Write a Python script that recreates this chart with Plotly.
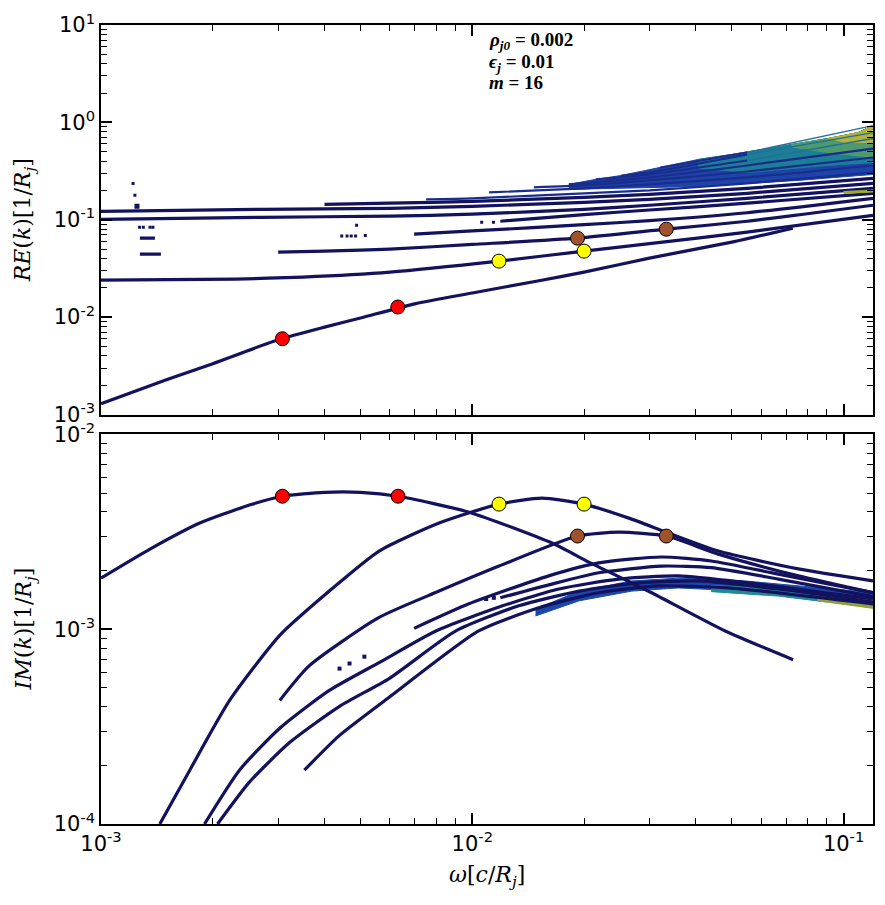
import plotly.graph_objects as go
from plotly.subplots import make_subplots

NAVY = "#12125e"
BANDLINE = "#1a2c8c"

# ---------------- top panel : RE(k) branches ----------------
re_fund_x = [1e-3, 1.5e-3, 2e-3, 3e-3, 4e-3, 5e-3, 7e-3, 1e-2, 1.5e-2, 2e-2, 3e-2, 5e-2, 7.3e-2]
re_fund_y = [1.29e-3, 2.28e-3, 3.33e-3, 5.85e-3, 7.9e-3, 9.8e-3, 1.37e-2, 1.77e-2, 2.35e-2, 2.90e-2, 4.04e-2, 5.89e-2, 8.18e-2]

re_b_x = [1e-3, 2.3e-3, 3.5e-3, 6e-3, 1.18e-2, 2e-2, 3e-2, 5.5e-2, 0.12]
re_b_y = [0.0240, 0.0246, 0.0258, 0.0290, 0.0376, 0.0476, 0.0569, 0.0745, 0.111]

re_c_x = [3e-3, 4e-3, 5e-3, 6e-3, 1e-2, 1.92e-2, 3.33e-2, 5.5e-2, 0.12]
re_c_y = [0.0466, 0.0476, 0.0488, 0.0499, 0.0558, 0.0647, 0.0800, 0.0966, 0.141]

re_d_x = [6.97e-3, 1e-2, 2e-2, 3e-2, 5.5e-2, 0.12]
re_d_y = [0.0711, 0.0767, 0.089, 0.098, 0.118, 0.166]

re_e_x = [1.19e-2, 2e-2, 3e-2, 5.5e-2, 0.12]
re_e_y = [0.0966, 0.113, 0.126, 0.148, 0.187]

re_h_x = [1e-3, 2.7e-3, 6e-3, 1e-2, 2e-2, 3e-2, 5.5e-2, 0.12]
re_h_y = [0.101, 0.106, 0.109, 0.114, 0.128, 0.141, 0.166, 0.210]

re_g_x = [1e-3, 2.7e-3, 6e-3, 1e-2, 2e-2, 3e-2, 5.5e-2, 0.12]
re_g_y = [0.122, 0.128, 0.131, 0.1375, 0.151, 0.162, 0.187, 0.236]

re_f_x = [4e-3, 6e-3, 1e-2, 2e-2, 3e-2, 5.5e-2, 0.12]
re_f_y = [0.144, 0.148, 0.1545, 0.170, 0.182, 0.210, 0.266]

re_m1_x = [7.51e-3, 1e-2, 2e-2, 3e-2, 5.5e-2, 0.12]
re_m1_y = [0.162, 0.166, 0.187, 0.200, 0.236, 0.306]
re_m2_x = [1.11e-2, 2e-2, 3e-2, 5.5e-2, 0.12]
re_m2_y = [0.191, 0.210, 0.231, 0.272, 0.361]
re_m3_x = [1.465e-2, 2e-2, 3e-2, 5.5e-2, 0.12]
re_m3_y = [0.215, 0.225, 0.2535, 0.313, 0.436]
re_m4_x = [1.82e-2, 3e-2, 5.5e-2, 0.12]
re_m4_y = [0.231, 0.272, 0.361, 0.539]
re_m5_x = [2.15e-2, 3e-2, 5.5e-2, 0.12]
re_m5_y = [0.260, 0.292, 0.406, 0.682]
re_m6_x = [2.52e-2, 3e-2, 5.5e-2, 0.12]
re_m6_y = [0.285, 0.306, 0.468, 0.785]
re_m7_x = [3.21e-2, 5.5e-2, 0.12]
re_m7_y = [0.344, 0.491, 0.927]

# isolated root-finder points
re_dots_x = [1.22e-3, 1.234e-3, 4.45e-3, 4.6e-3, 4.72e-3, 4.85e-3, 4.88e-3, 5.15e-3, 1.06e-2, 1.14e-2,
             1.27e-3, 1.30e-3, 1.355e-3, 1.38e-3]
re_dots_y = [0.236, 0.178, 0.068, 0.068, 0.068, 0.068, 0.0879, 0.069, 0.0943, 0.0943,
             0.0838, 0.0838, 0.0838, 0.0838]
re_big_dot_x = [1.25e-3]
re_big_dot_y = [0.138]
re_seg1_x = [1.273e-3, 1.397e-3]
re_seg1_y = [0.0647, 0.0647]
re_seg2_x = [1.273e-3, 1.45e-3]
re_seg2_y = [0.0444, 0.0444]
re_streak_x = [0.1, 0.12]
re_streak_y = [0.191, 0.197]

# dense band (colour-coded) outlines
band_top_x = [1.82e-2, 2.15e-2, 2.52e-2, 3.21e-2, 4.06e-2, 4.99e-2, 7.23e-2, 9.08e-2, 0.1094, 0.12,
              0.12, 7.55e-2, 4.06e-2, 2.48e-2, 1.82e-2]
band_top_y = [0.231, 0.260, 0.285, 0.344, 0.416, 0.468, 0.591, 0.682, 0.785, 0.927,
              0.292, 0.2535, 0.220, 0.210, 0.205]
teal_top_x = [4.06e-2, 4.99e-2, 7.23e-2, 9.08e-2, 0.1094, 0.12, 0.12, 9.0e-2, 5.54e-2, 4.06e-2]
teal_top_y = [0.416, 0.468, 0.591, 0.682, 0.785, 0.927, 0.387, 0.361, 0.306, 0.34]
green_top_x = [7.23e-2, 9.08e-2, 0.1094, 0.12, 0.12, 9.08e-2, 7.23e-2]
green_top_y = [0.591, 0.682, 0.785, 0.927, 0.436, 0.49, 0.56]
yellow_top_x = [9.08e-2, 0.1094, 0.12, 0.12, 0.1]
yellow_top_y = [0.682, 0.785, 0.927, 0.62, 0.62]

# marked points
re_red_x = [3.08e-3, 6.3e-3]
re_red_y = [6.0e-3, 1.27e-2]
re_yellow_x = [1.18e-2, 2.0e-2]
re_yellow_y = [0.0376, 0.0476]
re_brown_x = [1.92e-2, 3.33e-2]
re_brown_y = [0.0647, 0.080]

# ---------------- bottom panel : IM(k) branches ----------------
im_fund_x = [1e-3, 1.355e-3, 1.845e-3, 2.51e-3, 3.08e-3, 4e-3, 5e-3, 6.31e-3, 9.8e-3, 1.64e-2, 2.06e-2,
             2.59e-2, 3.04e-2, 4.8e-2, 7.31e-2]
im_fund_y = [1.83e-3, 2.58e-3, 3.51e-3, 4.34e-3, 4.82e-3, 5.05e-3, 5.05e-3, 4.82e-3, 3.99e-3, 2.77e-3, 2.21e-3,
             1.79e-3, 1.54e-3, 9.8e-4, 6.98e-4]

im_b_x = [1.44e-3, 1.734e-3, 2.22e-3, 3.03e-3, 4.12e-3, 5.61e-3, 8.14e-3, 1.18e-2, 1.54e-2, 1.995e-2,
          2.64e-2, 3.33e-2, 4.6e-2, 7.55e-2, 0.12]
im_b_y = [1.0e-4, 1.89e-4, 4.31e-4, 9.3e-4, 1.57e-3, 2.52e-3, 3.51e-3, 4.39e-3, 4.71e-3, 4.39e-3,
          3.72e-3, 3.15e-3, 2.52e-3, 2.04e-3, 1.77e-3]

im_c_x = [3.03e-3, 3.64e-3, 5.61e-3, 8.14e-3, 1.18e-2, 1.92e-2, 2.48e-2, 3.33e-2, 4.6e-2, 7.55e-2, 0.12]
im_c_y = [4.31e-4, 6.5e-4, 1.15e-3, 1.57e-3, 2.11e-3, 3.01e-3, 3.15e-3, 3.01e-3, 2.43e-3, 1.88e-3, 1.54e-3]

im_g_x = [1.90e-3, 2.36e-3, 3.03e-3, 4.12e-3, 5.61e-3, 7.98e-3, 1.18e-2, 1.71e-2, 2.48e-2, 3.59e-2, 5.54e-2, 0.12]
im_g_y = [1.0e-4, 1.89e-4, 3.10e-4, 4.85e-4, 6.74e-4, 9.8e-4, 1.30e-3, 1.61e-3, 1.81e-3, 1.88e-3, 1.73e-3, 1.43e-3]

im_h_x = [2.06e-3, 2.51e-3, 3.22e-3, 4.39e-3, 5.97e-3, 9.03e-3, 1.334e-2, 1.94e-2, 2.81e-2, 4.06e-2, 6.67e-2, 0.12]
im_h_y = [1.0e-4, 1.64e-4, 2.62e-4, 4.02e-4, 5.58e-4, 9.8e-4, 1.32e-3, 1.57e-3, 1.73e-3, 1.77e-3, 1.61e-3, 1.38e-3]

im_f_x = [3.53e-3, 4.39e-3, 5.97e-3, 1.04e-2, 1.51e-2, 2.19e-2, 3.17e-2, 4.89e-2, 0.12]
im_f_y = [1.89e-4, 2.85e-4, 4.47e-4, 9.8e-4, 1.29e-3, 1.54e-3, 1.67e-3, 1.63e-3, 1.35e-3]

im_d_x = [6.97e-3, 9.79e-3, 1.607e-2, 2.19e-2, 3.23e-2, 4.40e-2, 6.67e-2, 0.12]
im_d_y = [1.01e-3, 1.35e-3, 1.88e-3, 2.19e-3, 2.35e-3, 2.24e-3, 1.92e-3, 1.54e-3]

im_e_x = [1.19e-2, 1.607e-2, 2.19e-2, 3.23e-2, 4.40e-2, 6.67e-2, 0.12]
im_e_y = [1.45e-3, 1.69e-3, 1.95e-3, 2.11e-3, 2.07e-3, 1.81e-3, 1.47e-3]

im_dots_x = [4.39e-3, 4.67e-3, 5.12e-3, 1.09e-2, 1.143e-2]
im_dots_y = [6.28e-4, 6.67e-4, 7.23e-4, 1.43e-3, 1.45e-3]

band_bot_x = [1.48e-2, 1.94e-2, 2.69e-2, 3.59e-2, 5.43e-2, 0.12, 0.12, 5.43e-2, 3.59e-2, 2.69e-2, 1.94e-2, 1.48e-2]
band_bot_y = [1.27e-3, 1.57e-3, 1.77e-3, 1.83e-3, 1.77e-3, 1.54e-3, 1.29e-3, 1.57e-3, 1.63e-3, 1.57e-3, 1.40e-3, 1.17e-3]
teal_bot_x = [4.4e-2, 6.67e-2, 9.0e-2, 9.0e-2, 6.67e-2, 4.4e-2]
teal_bot_y = [1.68e-3, 1.62e-3, 1.52e-3, 1.38e-3, 1.48e-3, 1.56e-3]
green_bot_x = [8.5e-2, 0.12, 0.12, 8.5e-2]
green_bot_y = [1.55e-3, 1.42e-3, 1.28e-3, 1.40e-3]

im_red_x = [3.08e-3, 6.31e-3]
im_red_y = [4.82e-3, 4.82e-3]
im_yellow_x = [1.18e-2, 2.0e-2]
im_yellow_y = [4.39e-3, 4.39e-3]
im_brown_x = [1.92e-2, 3.33e-2]
im_brown_y = [3.01e-3, 3.01e-3]

# ---------------- axes text ----------------
x_tickvals = [1e-3, 1e-2, 1e-1]
x_ticktext = ["10<sup>-3</sup>", "10<sup>-2</sup>", "10<sup>-1</sup>"]
y1_tickvals = [1e-3, 1e-2, 1e-1, 1e0, 1e1]
y1_ticktext = ["10<sup>-3</sup>", "10<sup>-2</sup>", "10<sup>-1</sup>", "10<sup>0</sup>", "10<sup>1</sup>"]
y2_tickvals = [1e-4, 1e-3, 1e-2]
y2_ticktext = ["10<sup>-4</sup>", "10<sup>-3</sup>", "10<sup>-2</sup>"]
x_minor = [m * 10.0 ** e for e in (-3, -2) for m in range(2, 10)]
y1_minor = [m * 10.0 ** e for e in (-3, -2, -1, 0) for m in range(2, 10)]
y2_minor = [m * 10.0 ** e for e in (-4, -3) for m in range(2, 10)]

fig = make_subplots(rows=2, cols=1, shared_xaxes=True, vertical_spacing=0.025)


def poly(x, y, color, row):
    fig.add_trace(go.Scatter(x=x, y=y, mode="lines", fill="toself", fillcolor=color,
                             line=dict(color=color, width=1), hoverinfo="skip", showlegend=False),
                  row=row, col=1)


def curve(x, y, row, color=NAVY, width=3.2):
    fig.add_trace(go.Scatter(x=x, y=y, mode="lines",
                             line=dict(color=color, width=width, shape="spline", smoothing=0.6),
                             showlegend=False), row=row, col=1)


def dots(x, y, row, size=3, color=NAVY):
    fig.add_trace(go.Scatter(x=x, y=y, mode="markers",
                             marker=dict(color=color, size=size, symbol="square"),
                             showlegend=False), row=row, col=1)


def circles(x, y, color, row):
    fig.add_trace(go.Scatter(x=x, y=y, mode="markers",
                             marker=dict(color=color, size=14, line=dict(color="black", width=1)),
                             showlegend=False), row=row, col=1)


# ---- top panel ----
poly(band_top_x, band_top_y, "#1d44a8", 1)
poly(teal_top_x, teal_top_y, "#1c7f96", 1)
poly(green_top_x, green_top_y, "#4e9a6a", 1)
poly(yellow_top_x, yellow_top_y, "#b2b23c", 1)

for bx, by in [(re_b_x, re_b_y), (re_c_x, re_c_y), (re_d_x, re_d_y), (re_e_x, re_e_y),
               (re_h_x, re_h_y), (re_g_x, re_g_y), (re_f_x, re_f_y)]:
    curve(bx, by, 1)
for bx, by in [(re_m1_x, re_m1_y), (re_m2_x, re_m2_y), (re_m3_x, re_m3_y), (re_m4_x, re_m4_y)]:
    curve(bx, by, 1, color=BANDLINE, width=2.2)
for bx, by in [(re_m5_x, re_m5_y), (re_m6_x, re_m6_y), (re_m7_x, re_m7_y)]:
    curve(bx[:-1], by[:-1], 1, color=BANDLINE, width=2.0)
    curve(bx[-2:], by[-2:], 1, color="#21709a", width=1.4)
curve(re_fund_x, re_fund_y, 1)
curve(re_seg1_x, re_seg1_y, 1)
curve(re_seg2_x, re_seg2_y, 1)
curve(re_streak_x, re_streak_y, 1, color="#9aaa2a", width=3)
dots(re_dots_x, re_dots_y, 1, size=3)
dots(re_big_dot_x, re_big_dot_y, 1, size=5)
circles(re_red_x, re_red_y, "#ff0000", 1)
circles(re_yellow_x, re_yellow_y, "#ffff00", 1)
circles(re_brown_x, re_brown_y, "#a0522d", 1)

# ---- bottom panel ----
poly(band_bot_x, band_bot_y, "#1a47a8", 2)
poly(teal_bot_x, teal_bot_y, "#1f8a96", 2)
poly(green_bot_x, green_bot_y, "#8fa43a", 2)
for bx, by in [(im_g_x, im_g_y), (im_h_x, im_h_y), (im_f_x, im_f_y), (im_d_x, im_d_y),
               (im_e_x, im_e_y), (im_c_x, im_c_y), (im_b_x, im_b_y), (im_fund_x, im_fund_y)]:
    curve(bx, by, 2)
dots(im_dots_x, im_dots_y, 2, size=4)
circles(im_red_x, im_red_y, "#ff0000", 2)
circles(im_yellow_x, im_yellow_y, "#ffff00", 2)
circles(im_brown_x, im_brown_y, "#a0522d", 2)

tickfont = dict(family="DejaVu Sans", size=21, color="black")
common = dict(type="log", showline=True, linecolor="black", linewidth=1.5, mirror="ticks",
              ticks="inside", ticklen=11, tickwidth=2, tickcolor="black", showgrid=False,
              zeroline=False, tickfont=tickfont, tickmode="array")

fig.update_xaxes(**common, range=[-3, -0.9208], tickvals=x_tickvals, ticktext=x_ticktext,
                 minor=dict(tickmode="array", tickvals=x_minor, ticks="inside", ticklen=6,
                            tickwidth=1, tickcolor="black", showgrid=False))
fig.update_xaxes(showticklabels=False, row=1, col=1)
fig.update_yaxes(**common, range=[-3, 1], tickvals=y1_tickvals, ticktext=y1_ticktext,
                 minor=dict(tickmode="array", tickvals=y1_minor, ticks="inside", ticklen=6,
                            tickwidth=1, tickcolor="black", showgrid=False), row=1, col=1)
fig.update_yaxes(**common, range=[-4, -2], tickvals=y2_tickvals, ticktext=y2_ticktext,
                 minor=dict(tickmode="array", tickvals=y2_minor, ticks="inside", ticklen=6,
                            tickwidth=1, tickcolor="black", showgrid=False), row=2, col=1)

title_font = dict(family="DejaVu Serif", size=22, color="black")
label_font = dict(family="Liberation Serif", size=19, color="black")
annotations = [
    dict(text="<i>RE</i>(<i>k</i>)[1/<i>R<sub>j</sub></i>]", x=-0.098, y=0.756, xref="paper", yref="paper",
         textangle=-90, showarrow=False, font=title_font, xanchor="center", yanchor="middle"),
    dict(text="<i>IM</i>(<i>k</i>)[1/<i>R<sub>j</sub></i>]", x=-0.098, y=0.244, xref="paper", yref="paper",
         textangle=-90, showarrow=False, font=title_font, xanchor="center", yanchor="middle"),
    dict(text="<i>ω</i>[<i>c</i>/<i>R<sub>j</sub></i>]", x=0.5, y=-0.066, xref="paper", yref="paper",
         showarrow=False, font=title_font, xanchor="center", yanchor="middle"),
    dict(text="<b><i>ρ<sub>j0</sub></i> = 0.002</b>", x=0.5, y=0.9800, xref="paper", yref="paper",
         showarrow=False, font=label_font, xanchor="left", yanchor="middle"),
    dict(text="<b><i>ϵ<sub>j</sub></i> = 0.01</b>", x=0.5, y=0.9530, xref="paper", yref="paper",
         showarrow=False, font=label_font, xanchor="left", yanchor="middle"),
    dict(text="<b><i>m</i> = 16</b>", x=0.5, y=0.9275, xref="paper", yref="paper",
         showarrow=False, font=label_font, xanchor="left", yanchor="middle"),
]

fig.update_layout(width=885, height=905, margin=dict(l=101, r=10, t=22, b=81),
                  paper_bgcolor="white", plot_bgcolor="white", showlegend=False,
                  annotations=annotations)

fig.write_html("out.html")
